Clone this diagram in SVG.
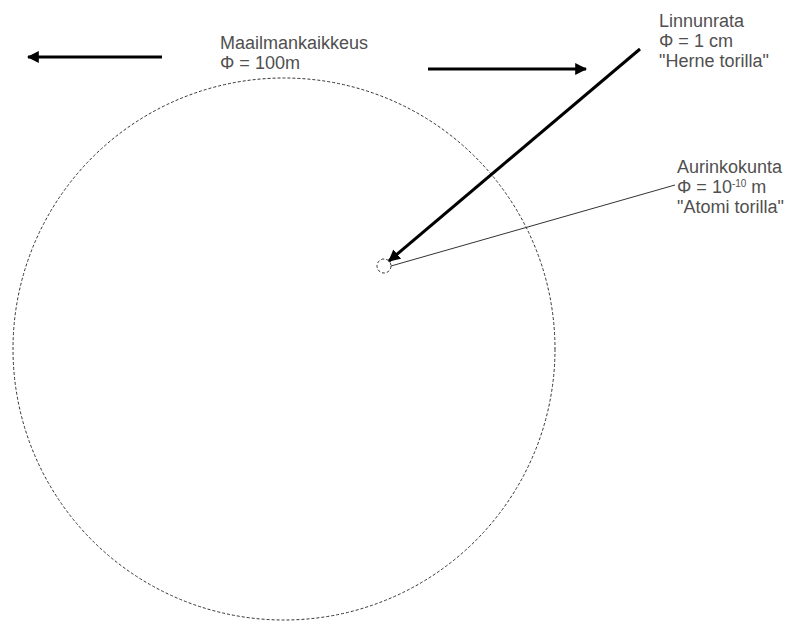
<svg xmlns="http://www.w3.org/2000/svg" width="789" height="623" viewBox="0 0 789 623">
<style>
text{font-family:"Liberation Sans",Arial,sans-serif;font-size:18px;fill:#505050}
.dash{fill:none;stroke:#333;stroke-width:1;stroke-dasharray:3,2}
.thick{stroke:#000;stroke-width:3;fill:none}
.thin{stroke:#333;stroke-width:1;fill:none}
</style>
<defs>
<marker id="ah" viewBox="0 0 10 10" refX="9" refY="5" markerWidth="4" markerHeight="4" orient="auto" markerUnits="strokeWidth">
<path d="M0,0 L10,5 L0,10 z" fill="#000"/>
</marker>
</defs>
<rect width="789" height="623" fill="#fff"/>
<g id="universe">
<circle class="dash" cx="284" cy="349" r="271"/>
<text x="220" y="49">Maailmankaikkeus</text>
<text x="220" y="69">Φ = 100m</text>
</g>
<g id="solar">
<circle class="dash" cx="384" cy="266" r="7"/>
</g>
<g id="milkyway-label">
<text x="659" y="27">Linnunrata</text>
<text x="659" y="47">Φ = 1 cm</text>
<text x="659" y="67">"Herne torilla"</text>
</g>
<g id="solar-label">
<text x="677" y="173">Aurinkokunta</text>
<text x="677" y="193">Φ = 10<tspan font-size="10" dy="-6">-10</tspan><tspan dy="6"> m</tspan></text>
<text x="677" y="213">"Atomi torilla"</text>
</g>
<g id="connectors">
<line class="thick" x1="162" y1="57" x2="28" y2="57" marker-end="url(#ah)"/>
<line class="thick" x1="428" y1="69" x2="586" y2="69" marker-end="url(#ah)"/>
<line class="thick" x1="640" y1="49" x2="389" y2="261" stroke-width="2.5" marker-end="url(#ah)"/>
<line class="thin" x1="675" y1="185" x2="391" y2="266"/>
</g>
</svg>
